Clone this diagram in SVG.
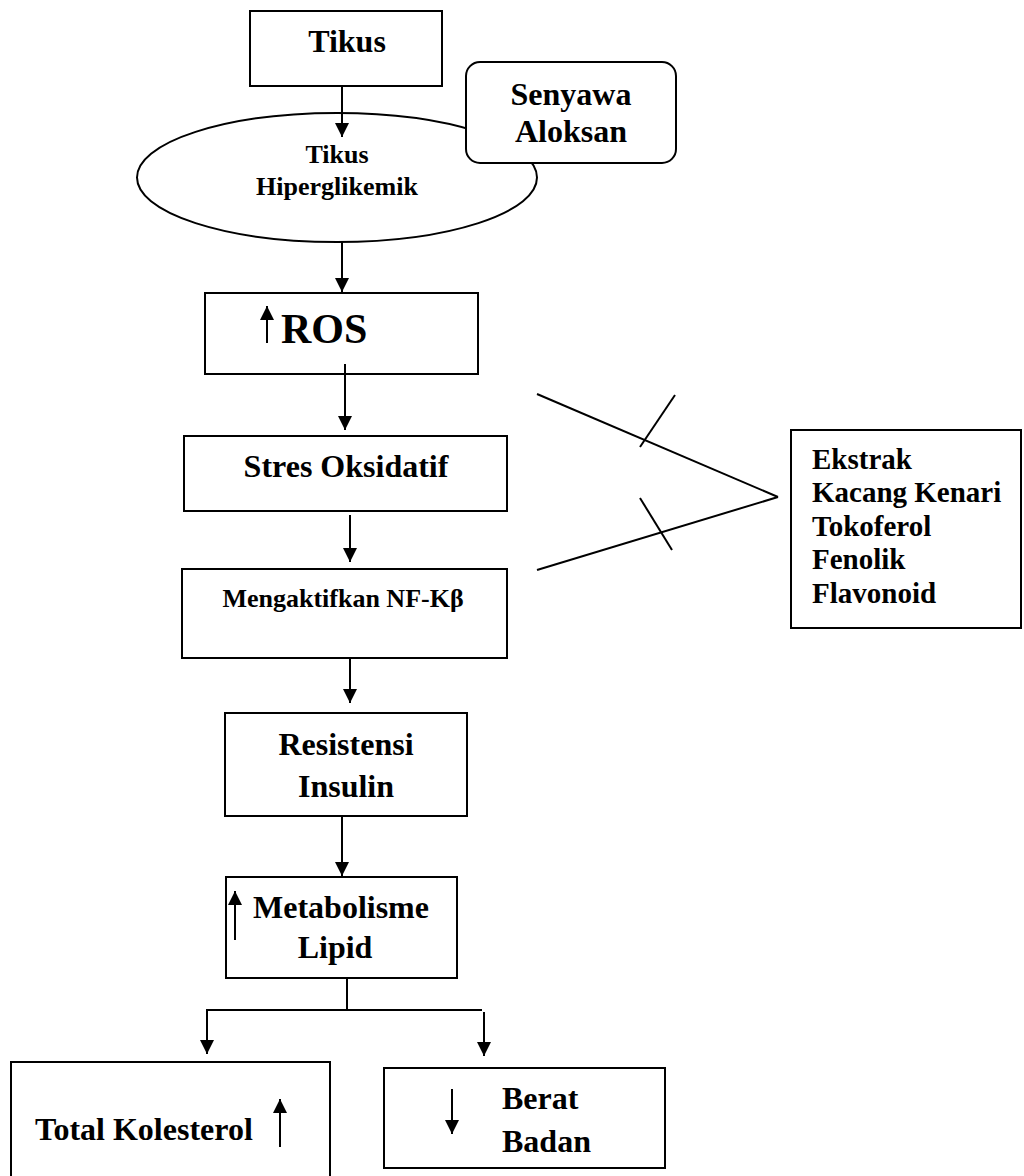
<svg xmlns="http://www.w3.org/2000/svg" width="1024" height="1176" viewBox="0 0 1024 1176">
<style>
.box{fill:#fff;stroke:#000;stroke-width:2}
.ln{fill:none;stroke:#000;stroke-width:2}
.t{font-family:"Liberation Serif","Times New Roman",serif;font-weight:bold;fill:#000}
.c{text-anchor:middle}
.s32{font-size:32px}
.s26{font-size:26px}
.s29{font-size:29px}
.s42{font-size:42px}
</style>
<defs>
<marker id="ah" viewBox="0 0 14 14" refX="14" refY="7" markerWidth="14" markerHeight="14" markerUnits="userSpaceOnUse" orient="auto">
<path d="M0,0 L14,7 L0,14 z" fill="#000"/>
</marker>
</defs>
<rect width="1024" height="1176" fill="#fff"/>

<g id="tikus">
<rect class="box" x="250" y="11" width="192" height="75"/>
<text class="t c s32" x="347" y="52">Tikus</text>
</g>

<g id="tikus-hiperglikemik">
<ellipse class="box" cx="337" cy="177.5" rx="200" ry="64.5"/>
<text class="t c s26" x="337" y="163">Tikus</text>
<text class="t c s26" x="337" y="195">Hiperglikemik</text>
</g>

<g id="senyawa-aloksan">
<rect class="box" x="466" y="62" width="210" height="101" rx="14" ry="14"/>
<text class="t c s32" x="571" y="105">Senyawa</text>
<text class="t c s32" x="571" y="142">Aloksan</text>
</g>

<g id="ros">
<rect class="box" x="205" y="293" width="273" height="81"/>
<line class="ln" x1="267" y1="343" x2="267" y2="306" marker-end="url(#ah)"/>
<text class="t s42" x="281" y="343">ROS</text>
</g>

<g id="stres-oksidatif">
<rect class="box" x="184" y="436" width="323" height="75"/>
<text class="t c s32" x="346" y="477">Stres Oksidatif</text>
</g>

<g id="nf-kb">
<rect class="box" x="182" y="569" width="325" height="89"/>
<text class="t c s26" x="343" y="607">Mengaktifkan NF-Kβ</text>
</g>

<g id="ekstrak">
<rect class="box" x="791" y="430" width="230" height="198"/>
<text class="t s29" x="812" y="469">Ekstrak</text>
<text class="t s29" x="812" y="502">Kacang Kenari</text>
<text class="t s29" x="812" y="536">Tokoferol</text>
<text class="t s29" x="812" y="569">Fenolik</text>
<text class="t s29" x="812" y="603">Flavonoid</text>
</g>

<g id="resistensi-insulin">
<rect class="box" x="225" y="713" width="242" height="103"/>
<text class="t c s32" x="346" y="755">Resistensi</text>
<text class="t c s32" x="346" y="797">Insulin</text>
</g>

<g id="metabolisme-lipid">
<rect class="box" x="226" y="877" width="231" height="101"/>
<line class="ln" x1="235" y1="940" x2="235" y2="891" marker-end="url(#ah)"/>
<text class="t c s32" x="341" y="918">Metabolisme</text>
<text class="t c s32" x="335" y="958">Lipid</text>
</g>

<g id="total-kolesterol">
<rect class="box" x="11" y="1062" width="319" height="130"/>
<text class="t s32" x="35" y="1140">Total Kolesterol</text>
<line class="ln" x1="280" y1="1147" x2="280" y2="1099" marker-end="url(#ah)"/>
</g>

<g id="berat-badan">
<rect class="box" x="384" y="1068" width="281" height="100"/>
<line class="ln" x1="452" y1="1089" x2="452" y2="1134" marker-end="url(#ah)"/>
<text class="t s32" x="502" y="1109">Berat</text>
<text class="t s32" x="502" y="1152">Badan</text>
</g>

<g id="connectors">
<line class="ln" x1="342" y1="86" x2="342" y2="137" marker-end="url(#ah)"/>
<line class="ln" x1="342" y1="242" x2="342" y2="292" marker-end="url(#ah)"/>
<line class="ln" x1="345" y1="364" x2="345" y2="430" marker-end="url(#ah)"/>
<line class="ln" x1="350" y1="515" x2="350" y2="562" marker-end="url(#ah)"/>
<line class="ln" x1="350" y1="658" x2="350" y2="703" marker-end="url(#ah)"/>
<line class="ln" x1="342" y1="816" x2="342" y2="876" marker-end="url(#ah)"/>
<polyline class="ln" points="347,978 347,1010"/>
<line class="ln" x1="207" y1="1010" x2="482" y2="1010"/>
<line class="ln" x1="207" y1="1009" x2="207" y2="1054" marker-end="url(#ah)"/>
<line class="ln" x1="484" y1="1012" x2="484" y2="1056" marker-end="url(#ah)"/>
<line class="ln" x1="537" y1="394" x2="778" y2="497"/>
<line class="ln" x1="537" y1="570" x2="778" y2="497"/>
<line class="ln" x1="675" y1="395" x2="640" y2="447"/>
<line class="ln" x1="640" y1="498" x2="672" y2="550"/>
</g>
</svg>
